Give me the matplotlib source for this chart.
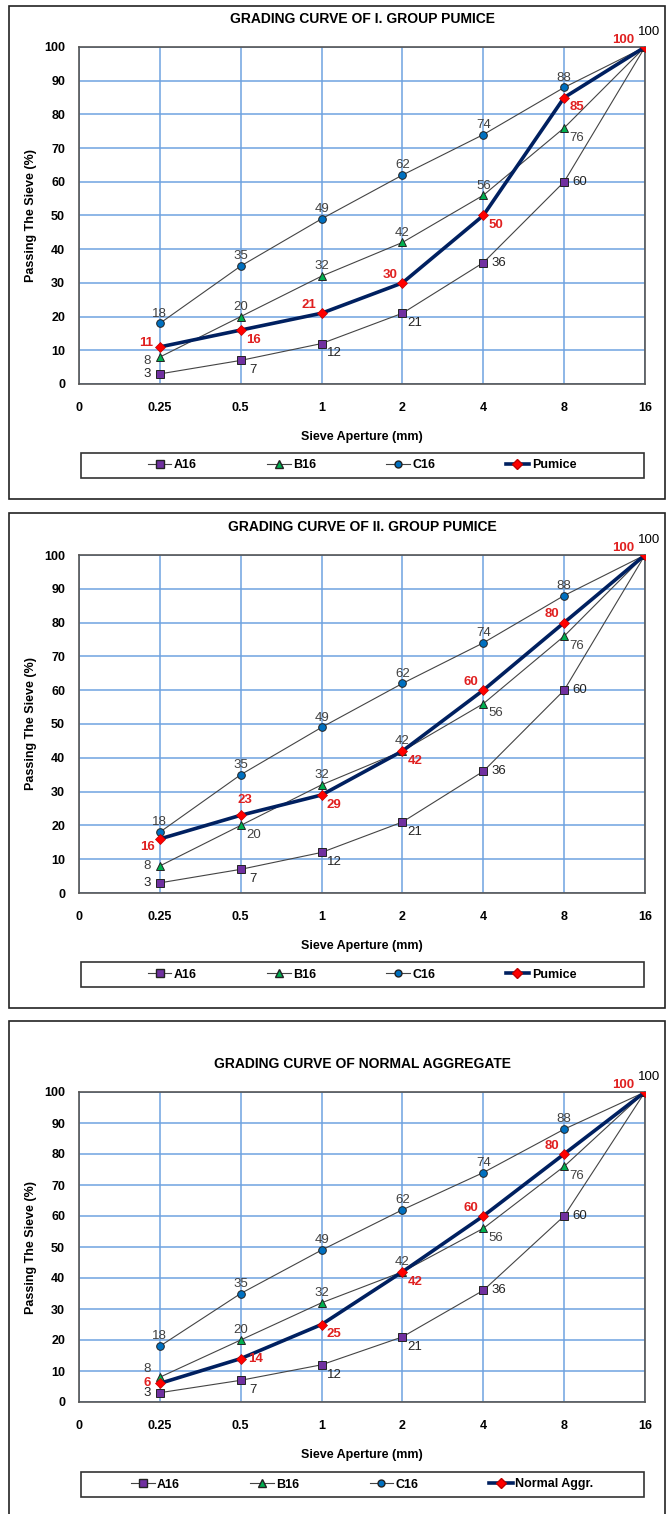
import matplotlib
matplotlib.use("Agg")
import matplotlib.pyplot as plt
from matplotlib.patches import Rectangle
from matplotlib.lines import Line2D

plt.rcParams['font.family'] = ['Liberation Sans Narrow', 'Liberation Sans', 'DejaVu Sans']

# data
sieve_labels = ['0', '0.25', '0.5', '1', '2', '4', '8', '16']
a16 = [3, 7, 12, 21, 36, 60, 100]
b16 = [8, 20, 32, 42, 56, 76, 100]
c16 = [18, 35, 49, 62, 74, 88, 100]
pumice_1 = [11, 16, 21, 30, 50, 85, 100]
pumice_2 = [16, 23, 29, 42, 60, 80, 100]
normal_aggr = [6, 14, 25, 42, 60, 80, 100]

titles = ['GRADING CURVE OF I. GROUP PUMICE',
          'GRADING CURVE OF II. GROUP PUMICE',
          'GRADING CURVE OF NORMAL AGGREGATE']
main_names = ['Pumice', 'Pumice', 'Normal Aggr.']
main_series = [pumice_1, pumice_2, normal_aggr]

# label placement (offset in points)
OFF = {'a': (0, 7), 'l': (-9, 0), 'r': (11, 0), 'br': (9, -7), 'la': (-9, 6),
       'lb': (-9, -6), 'ra': (3, 11), 'b': (0, -9), 'l+': (-10, 3), 'l-': (-9, -3),
       'la2': (-16, 5), 'n': None}
a16_pos = ['l', 'br', 'br', 'br', 'r', 'r', 'n']
c16_pos = ['a', 'a', 'a', 'a', 'a', 'a', 'ra']
b16_pos = [['l-', 'a', 'a', 'a', 'a', 'br', 'n'],
           ['l', 'br', 'a', 'a', 'br', 'br', 'n'],
           ['la', 'a', 'a', 'a', 'br', 'br', 'n']]
main_pos = [['l+', 'br', 'la', 'la', 'br', 'br', 'la2'],
            ['lb', 'ra', 'br', 'br', 'la', 'la', 'la2'],
            ['l', 'r', 'br', 'br', 'la', 'la', 'la2']]

W, H = 666, 1514
fig = plt.figure(figsize=(W / 100, H / 100), dpi=100)

# pixel layout of each panel: (axes top, axes bottom, box top, box bottom, legend top)
panels = [(47, 384, 6, 499, 453), (555, 893, 513, 1008, 962), (1092, 1402, 1021, 1530, 1472)]
ax_left, ax_right = 79, 645

def fy(y):
    return 1 - y / H

x = list(range(1, 8))
grid_c = '#6FA3E0'
gray = '#444444'

for i, (top, bot, btop, bbot, ltop) in enumerate(panels):
    fig.patches.append(Rectangle((9 / W, fy(bbot)), (665 - 9) / W, (bbot - btop) / H,
                                 transform=fig.transFigure, fill=False, ec='#222222', lw=1.2))
    ax = fig.add_axes([ax_left / W, fy(bot), (ax_right - ax_left) / W, (bot - top) / H])
    ax.set_xlim(0, 7)
    ax.set_ylim(0, 100)
    ax.set_yticks(range(0, 101, 10))
    ax.set_xticks(range(8))
    ax.set_xticklabels(sieve_labels)
    ax.tick_params(length=0, labelsize=9, pad=13)
    ax.tick_params(axis='y', pad=10)
    for lab in ax.get_xticklabels() + ax.get_yticklabels():
        lab.set_fontweight('bold')
    ax.grid(True, color=grid_c, lw=1.1)
    ax.set_axisbelow(True)
    for s in ax.spines.values():
        s.set_color('#555555')
        s.set_linewidth(1.2)
    ax.set_title(titles[i], fontsize=10, fontweight='bold', pad=17)
    ax.set_xlabel('Sieve Aperture (mm)', fontsize=9, fontweight='bold', labelpad=12)
    ax.set_ylabel('Passing The Sieve (%)', fontsize=9, fontweight='bold', labelpad=5)

    main = main_series[i]
    ax.plot(x, a16, color=gray, lw=0.8, marker='s', ms=6, mfc='#7030A0', mec='#222222', mew=0.7, zorder=3)
    ax.plot(x, b16, color=gray, lw=0.8, marker='^', ms=6, mfc='#00B050', mec='#222222', mew=0.7, zorder=3)
    ax.plot(x, c16, color=gray, lw=0.8, marker='o', ms=5.5, mfc='#0070C0', mec='#222222', mew=0.7, zorder=3)
    ax.plot(x, main, color='#002060', lw=2.6, marker='D', ms=5, mfc='#FF0000', mec='#C00000', mew=0.5, zorder=4)

    groups = [(a16, a16_pos, '#222222', 'normal'), (b16, b16_pos[i], '#404040', 'normal'),
              (c16, c16_pos, '#404040', 'normal'), (main, main_pos[i], '#E02020', 'bold')]
    for vals, pos, col, fw in groups:
        for xv, yv, p in zip(x, vals, pos):
            if OFF[p] is None:
                continue
            if vals is c16 and xv == 7:
                col_use, fw_use = '#000000', 'normal'
            else:
                col_use, fw_use = col, fw
            ax.annotate(str(yv), (xv, yv), xytext=OFF[p], textcoords='offset points',
                        ha='center', va='center', fontsize=9.5, color=col_use,
                        fontweight=fw_use, clip_on=False, zorder=6)

    # legend box
    fig.patches.append(Rectangle((81 / W, fy(ltop + 25)), (644 - 81) / W, 25 / H,
                                 transform=fig.transFigure, fill=False, ec='#333333', lw=1.2))
    handles = [
        Line2D([], [], color=gray, lw=0.8, marker='s', ms=6, mfc='#7030A0', mec='#222222'),
        Line2D([], [], color=gray, lw=0.8, marker='^', ms=6, mfc='#00B050', mec='#222222'),
        Line2D([], [], color=gray, lw=0.8, marker='o', ms=5, mfc='#0070C0', mec='#222222'),
        Line2D([], [], color='#002060', lw=2.6, marker='D', ms=5, mfc='#FF0000', mec='#C00000'),
    ]
    fig.legend(handles, ['A16', 'B16', 'C16', main_names[i]], ncol=4, loc='center',
               bbox_to_anchor=(362 / W, fy(ltop + 12.5)),
               frameon=False, prop={'weight': 'bold', 'size': 9}, handlelength=1.9,
               columnspacing=5.6, handletextpad=0.2)

fig.savefig('out.png', dpi=100)
